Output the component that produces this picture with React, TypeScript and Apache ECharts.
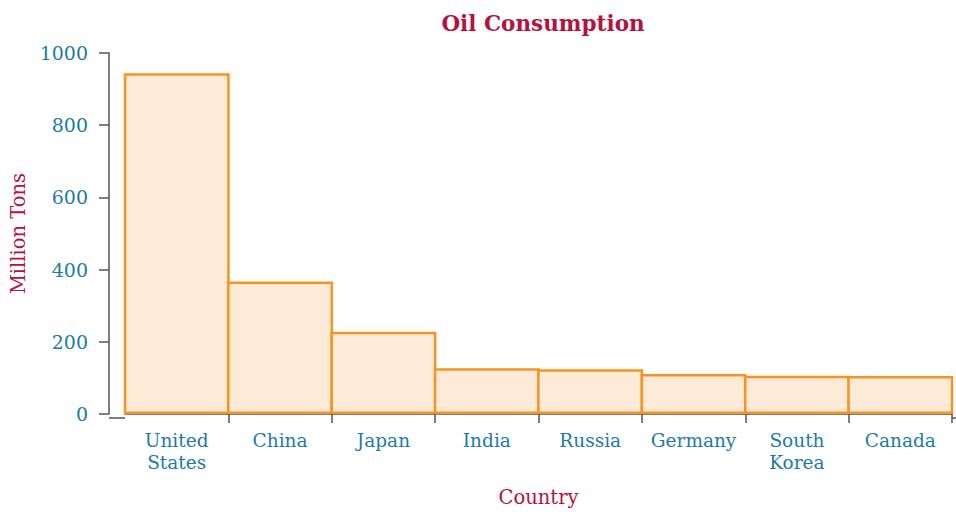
import React, { useEffect, useRef } from "react";
import * as echarts from "echarts";

const categories = ["United\nStates", "China", "Japan", "India", "Russia", "Germany", "South\nKorea", "Canada"];
const values = [944, 367, 228, 127, 124, 111, 106, 105];
const yTicks = [0, 200, 400, 600, 800, 1000];

const FONT = "DejaVu Serif";
const BLUE = "#1B7BAA";
const RED = "#B5123E";

export default function App() {
  const ref = useRef<HTMLDivElement>(null);
  useEffect(() => {
    if (!ref.current) return;
    const chart = echarts.init(ref.current, undefined, { renderer: "svg" });
    chart.setOption({
      animation: false,
      backgroundColor: "#ffffff",
      title: {
        text: "Oil Consumption",
        left: 538,
        textAlign: "center",
        top: 7,
        textStyle: { fontFamily: FONT, fontSize: 21.5, fontWeight: "bold", color: RED },
      },
      grid: { left: 125, right: 4, top: 53, bottom: 94 },
      xAxis: {
        type: "category",
        data: categories,
        name: "Country",
        nameLocation: "middle",
        nameGap: 73,
        nameTextStyle: { fontFamily: FONT, fontSize: 19.5, color: RED },
        axisLine: { show: true, lineStyle: { color: "#555", width: 1.5 } },
        axisTick: {
          show: true,
          interval: (i: number) => i !== 0,
          length: 9,
          lineStyle: { color: "#555", width: 1.5 },
        },
        axisLabel: { interval: 0, hideOverlap: false, fontFamily: FONT, fontSize: 18.5, color: BLUE, margin: 15, lineHeight: 22 },
      },
      yAxis: {
        type: "value",
        min: 0,
        max: 1000,
        interval: 200,
        offset: 16,
        name: "Million Tons",
        nameLocation: "middle",
        nameGap: 80,
        nameTextStyle: { fontFamily: FONT, fontSize: 19.5, color: RED },
        axisLine: { show: true, lineStyle: { color: "#555", width: 1.5 } },
        axisTick: { show: true, length: 10, lineStyle: { color: "#555", width: 1.5 } },
        axisLabel: {
          fontFamily: FONT,
          fontSize: 19,
          color: BLUE,
          margin: 21,
          formatter: (v: number) => (yTicks.includes(v) ? String(v) : ""),
        },
        splitLine: { show: false },
      },
      graphic: [
        {
          type: "line",
          shape: { x1: 109, y1: 418, x2: 125, y2: 418 },
          style: { stroke: "#555", lineWidth: 1.5 },
        },
        {
          type: "line",
          shape: { x1: 952, y1: 418, x2: 956, y2: 418 },
          style: { stroke: "#555", lineWidth: 1.5 },
        },
      ],
      series: [
        {
          type: "bar",
          data: values,
          barWidth: 106,
          barCategoryGap: "0%",
          itemStyle: { color: "#FDEBD7", borderColor: "#F7931E", borderWidth: 2.5 },
        },
      ],
    });
    return () => chart.dispose();
  }, []);
  return <div ref={ref} style={{ position: "fixed", left: 0, top: 0, width: 956, height: 512 }} />;
}
